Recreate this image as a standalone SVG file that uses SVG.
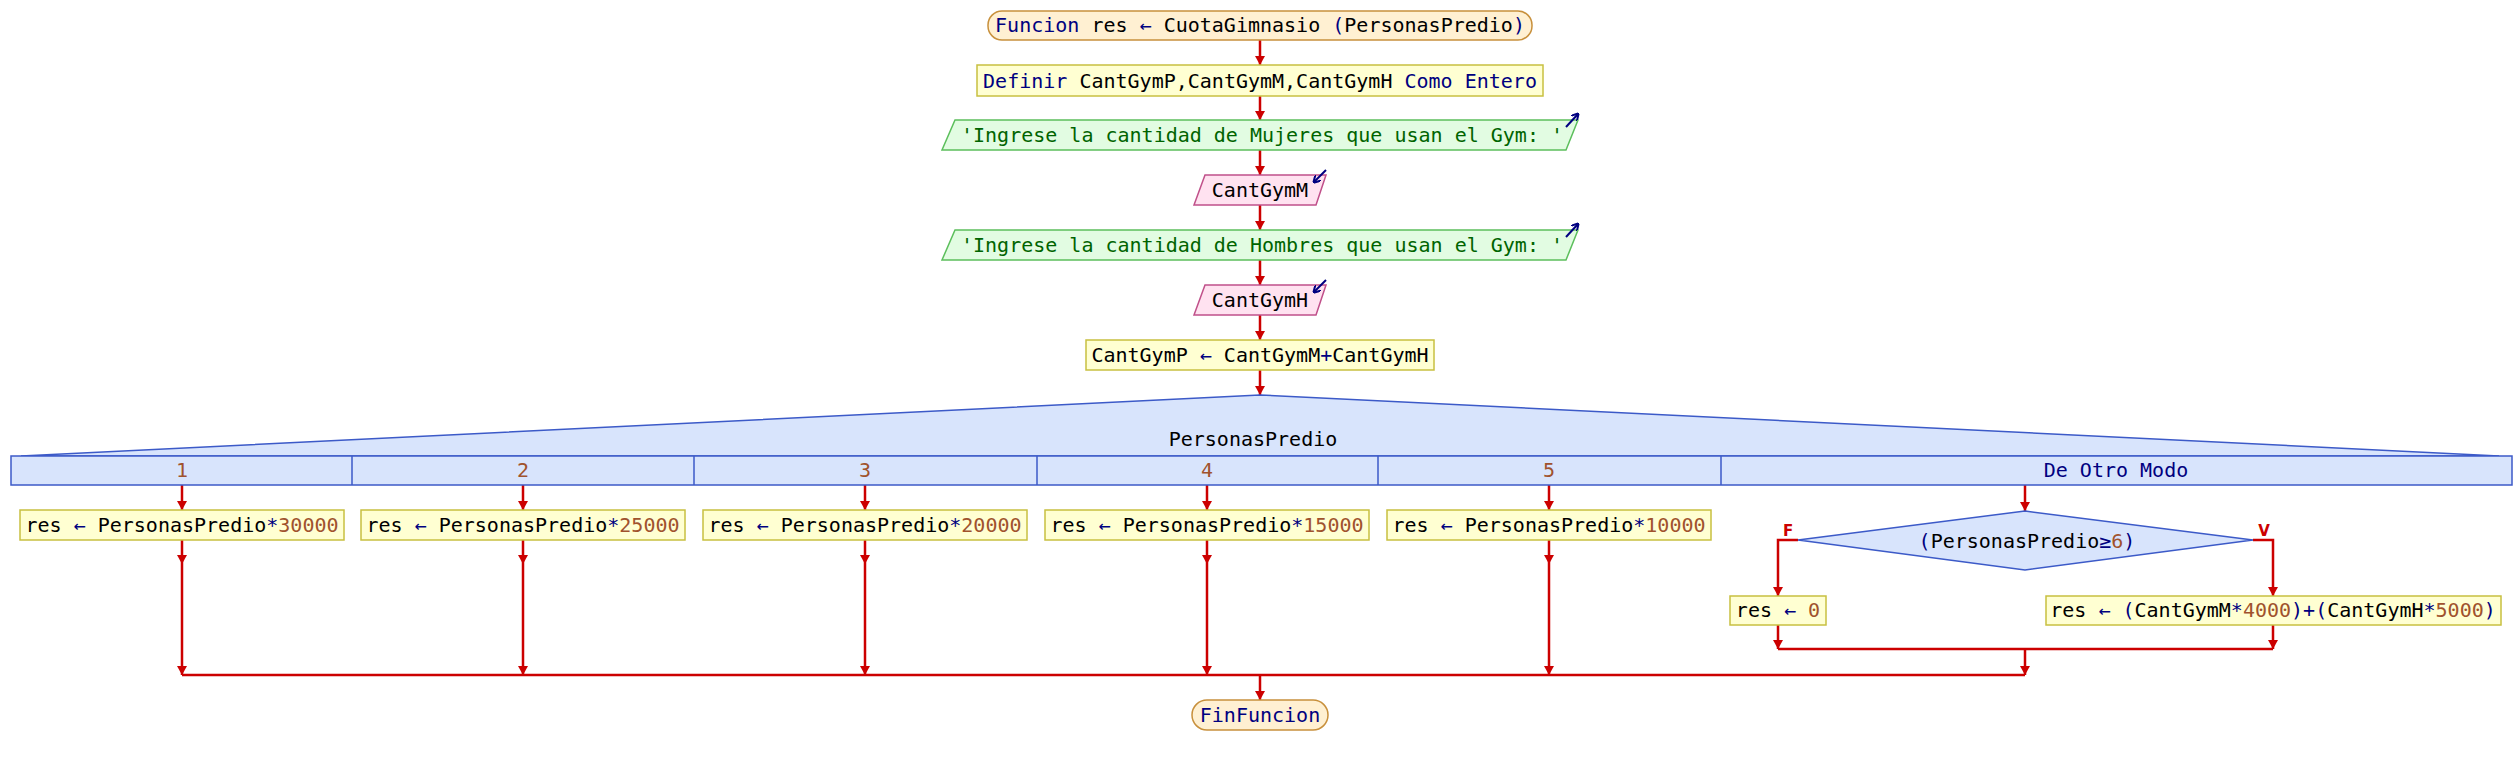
<svg xmlns="http://www.w3.org/2000/svg" width="2520" height="765" viewBox="0 0 2520 765">
<defs>
<marker id="ah" markerUnits="userSpaceOnUse" markerWidth="9" markerHeight="10" refX="9" refY="5" orient="auto"><path d="M0,0 L9,5 L0,10 z" fill="#cc0000"/></marker>
<marker id="ih" markerUnits="userSpaceOnUse" markerWidth="7" markerHeight="8" refX="6" refY="4" orient="auto"><path d="M0,0 L7,4 L0,8" fill="none" stroke="#000080" stroke-width="2"/></marker>
<style>
text{font-family:"DejaVu Sans Mono","Liberation Mono",monospace;font-size:20px;fill:#000}
.k{fill:#000080}
.n{fill:#a0522d}
.g{fill:#006400}
.c{text-anchor:middle}
.term{fill:#fff0d2;stroke:#c8903c;stroke-width:1.5}
.proc{fill:#ffffd2;stroke:#c8c040;stroke-width:1.5}
.out{fill:#e2fce2;stroke:#5cbf5c;stroke-width:1.5}
.inp{fill:#ffe2f0;stroke:#c0508a;stroke-width:1.5}
.sw{fill:#d8e4fc;stroke:#3c5ac8;stroke-width:1.5}
.ic{stroke:#000080;stroke-width:2;fill:none}
.lbl{font-family:"DejaVu Sans","Liberation Sans",sans-serif;font-size:15px;font-weight:bold;fill:#cc0000}
#conn line,#conn polyline{stroke:#cc0000;stroke-width:2.5;fill:none}
</style>
</defs>
<rect width="2520" height="765" fill="#fff"/>
<g id="conn">
<line x1="1260" y1="40" x2="1260" y2="65" marker-end="url(#ah)"/>
<line x1="1260" y1="96" x2="1260" y2="120" marker-end="url(#ah)"/>
<line x1="1260" y1="150" x2="1260" y2="175" marker-end="url(#ah)"/>
<line x1="1260" y1="205" x2="1260" y2="230" marker-end="url(#ah)"/>
<line x1="1260" y1="260" x2="1260" y2="285" marker-end="url(#ah)"/>
<line x1="1260" y1="315" x2="1260" y2="340" marker-end="url(#ah)"/>
<line x1="1260" y1="370" x2="1260" y2="395" marker-end="url(#ah)"/>
<line x1="182" y1="485" x2="182" y2="510" marker-end="url(#ah)"/>
<line x1="523" y1="485" x2="523" y2="510" marker-end="url(#ah)"/>
<line x1="865" y1="485" x2="865" y2="510" marker-end="url(#ah)"/>
<line x1="1207" y1="485" x2="1207" y2="510" marker-end="url(#ah)"/>
<line x1="1549" y1="485" x2="1549" y2="510" marker-end="url(#ah)"/>
<line x1="2025" y1="485" x2="2025" y2="511" marker-end="url(#ah)"/>
<line x1="182" y1="540" x2="182" y2="564" marker-end="url(#ah)"/>
<line x1="182" y1="564" x2="182" y2="675" marker-end="url(#ah)"/>
<line x1="523" y1="540" x2="523" y2="564" marker-end="url(#ah)"/>
<line x1="523" y1="564" x2="523" y2="675" marker-end="url(#ah)"/>
<line x1="865" y1="540" x2="865" y2="564" marker-end="url(#ah)"/>
<line x1="865" y1="564" x2="865" y2="675" marker-end="url(#ah)"/>
<line x1="1207" y1="540" x2="1207" y2="564" marker-end="url(#ah)"/>
<line x1="1207" y1="564" x2="1207" y2="675" marker-end="url(#ah)"/>
<line x1="1549" y1="540" x2="1549" y2="564" marker-end="url(#ah)"/>
<line x1="1549" y1="564" x2="1549" y2="675" marker-end="url(#ah)"/>
<polyline points="1798,540 1778,540 1778,596" marker-end="url(#ah)"/>
<polyline points="2253,540 2273,540 2273,596" marker-end="url(#ah)"/>
<line x1="1778" y1="625" x2="1778" y2="649" marker-end="url(#ah)"/>
<line x1="2273" y1="625" x2="2273" y2="649" marker-end="url(#ah)"/>
<line x1="1778" y1="649" x2="2273" y2="649"/>
<line x1="2025" y1="649" x2="2025" y2="675" marker-end="url(#ah)"/>
<line x1="182" y1="675" x2="2025" y2="675"/>
<line x1="1260" y1="675" x2="1260" y2="700" marker-end="url(#ah)"/>
</g>
<g id="n_inicio">
<rect class="term" x="988" y="11" width="544" height="29" rx="14"/>
<text class="c" x="1260" y="32"><tspan class="k">Funcion</tspan> res <tspan class="k">←</tspan> CuotaGimnasio <tspan class="k">(</tspan>PersonasPredio<tspan class="k">)</tspan></text>
</g>
<g id="n_definir">
<rect class="proc" x="977" y="65" width="566" height="31"/>
<text class="c" x="1260" y="88"><tspan class="k">Definir</tspan> CantGymP,CantGymM,CantGymH <tspan class="k">Como Entero</tspan></text>
</g>
<g id="n_escribir1">
<polygon class="out" points="955,120 1578,120 1566,150 942,150"/>
<text class="c g" x="1262" y="142">'Ingrese la cantidad de Mujeres que usan el Gym: '</text>
<line class="ic" x1="1566" y1="127" x2="1578" y2="114" marker-end="url(#ih)"/>
</g>
<g id="n_leer1">
<polygon class="inp" points="1205,175 1326,175 1316,205 1194,205"/>
<text class="c" x="1260" y="197">CantGymM</text>
<line class="ic" x1="1326" y1="170" x2="1314" y2="182" marker-end="url(#ih)"/>
</g>
<g id="n_escribir2">
<polygon class="out" points="955,230 1578,230 1566,260 942,260"/>
<text class="c g" x="1262" y="252">'Ingrese la cantidad de Hombres que usan el Gym: '</text>
<line class="ic" x1="1566" y1="237" x2="1578" y2="224" marker-end="url(#ih)"/>
</g>
<g id="n_leer2">
<polygon class="inp" points="1205,285 1326,285 1316,315 1194,315"/>
<text class="c" x="1260" y="307">CantGymH</text>
<line class="ic" x1="1326" y1="280" x2="1314" y2="292" marker-end="url(#ih)"/>
</g>
<g id="n_asig">
<rect class="proc" x="1086" y="340" width="348" height="30"/>
<text class="c" x="1260" y="362">CantGymP <tspan class="k">←</tspan> CantGymM<tspan class="k">+</tspan>CantGymH</text>
</g>
<g id="n_segun">
<polygon class="sw" points="21,456 1260,395 2499,456"/>
<rect class="sw" x="11" y="456" width="2501" height="29"/>
<line x1="352" y1="456" x2="352" y2="485" stroke="#3c5ac8" stroke-width="1.5"/>
<line x1="694" y1="456" x2="694" y2="485" stroke="#3c5ac8" stroke-width="1.5"/>
<line x1="1037" y1="456" x2="1037" y2="485" stroke="#3c5ac8" stroke-width="1.5"/>
<line x1="1378" y1="456" x2="1378" y2="485" stroke="#3c5ac8" stroke-width="1.5"/>
<line x1="1721" y1="456" x2="1721" y2="485" stroke="#3c5ac8" stroke-width="1.5"/>
<text class="c" x="1253" y="446">PersonasPredio</text>
<text class="c n" x="182" y="477">1</text>
<text class="c n" x="523" y="477">2</text>
<text class="c n" x="865" y="477">3</text>
<text class="c n" x="1207" y="477">4</text>
<text class="c n" x="1549" y="477">5</text>
<text class="c k" x="2116" y="477">De Otro Modo</text>
</g>
<g id="n_c1">
<rect class="proc" x="20" y="510" width="324" height="30"/>
<text class="c" x="182" y="532">res <tspan class="k">←</tspan> PersonasPredio<tspan class="k">*</tspan><tspan class="n">30000</tspan></text>
</g>
<g id="n_c2">
<rect class="proc" x="361" y="510" width="324" height="30"/>
<text class="c" x="523" y="532">res <tspan class="k">←</tspan> PersonasPredio<tspan class="k">*</tspan><tspan class="n">25000</tspan></text>
</g>
<g id="n_c3">
<rect class="proc" x="703" y="510" width="324" height="30"/>
<text class="c" x="865" y="532">res <tspan class="k">←</tspan> PersonasPredio<tspan class="k">*</tspan><tspan class="n">20000</tspan></text>
</g>
<g id="n_c4">
<rect class="proc" x="1045" y="510" width="324" height="30"/>
<text class="c" x="1207" y="532">res <tspan class="k">←</tspan> PersonasPredio<tspan class="k">*</tspan><tspan class="n">15000</tspan></text>
</g>
<g id="n_c5">
<rect class="proc" x="1387" y="510" width="324" height="30"/>
<text class="c" x="1549" y="532">res <tspan class="k">←</tspan> PersonasPredio<tspan class="k">*</tspan><tspan class="n">10000</tspan></text>
</g>
<g id="n_si">
<polygon class="sw" points="2025,511 2253,540 2025,570 1798,540"/>
<text class="c" x="2027" y="548"><tspan class="k">(</tspan>PersonasPredio<tspan class="k">≥</tspan><tspan class="n">6</tspan><tspan class="k">)</tspan></text>
<text class="lbl c" x="1788" y="536">F</text>
<text class="lbl c" x="2264" y="536">V</text>
</g>
<g id="n_f">
<rect class="proc" x="1730" y="596" width="96" height="29"/>
<text class="c" x="1778" y="617">res <tspan class="k">←</tspan> <tspan class="n">0</tspan></text>
</g>
<g id="n_v">
<rect class="proc" x="2046" y="596" width="455" height="29"/>
<text class="c" x="2273" y="617">res <tspan class="k">← (</tspan>CantGymM<tspan class="k">*</tspan><tspan class="n">4000</tspan><tspan class="k">)+(</tspan>CantGymH<tspan class="k">*</tspan><tspan class="n">5000</tspan><tspan class="k">)</tspan></text>
</g>
<g id="n_fin">
<rect class="term" x="1192" y="700" width="136" height="30" rx="15"/>
<text class="c k" x="1260" y="722">FinFuncion</text>
</g>
</svg>
